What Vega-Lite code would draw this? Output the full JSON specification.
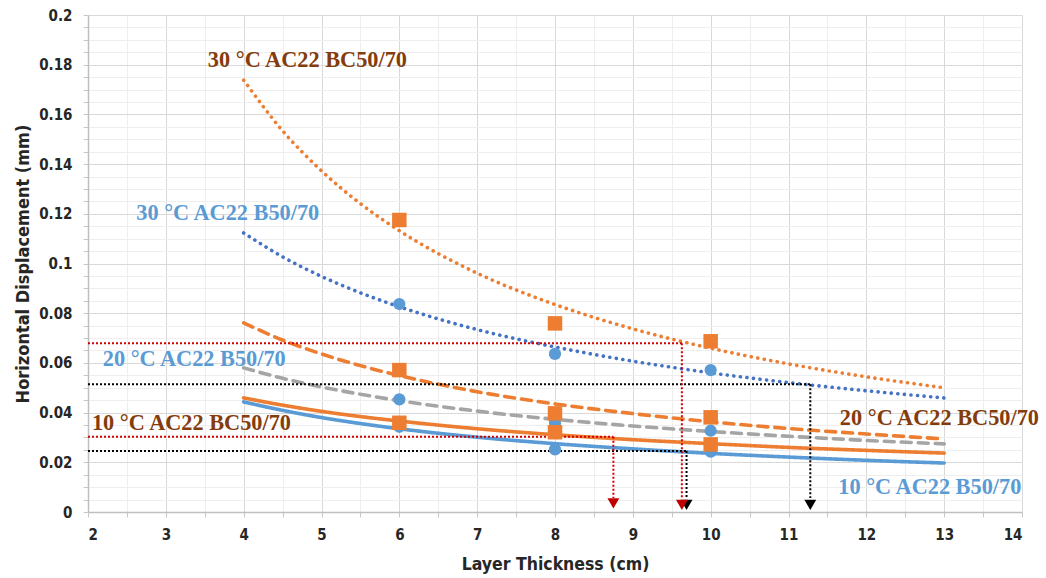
{
  "$schema": "https://vega.github.io/schema/vega-lite/v6.json",
  "autosize": {"type": "none"},
  "padding": {"left": 88, "top": 15, "right": 24, "bottom": 66},
  "width": 934,
  "height": 497,
  "background": "white",
  "config": {"view": {"stroke": null}},
  "datasets": {
    "trend": [
      {"s": "30BC", "x": 4, "y": 0.1738}, {"s": "30BC", "x": 4.5, "y": 0.1534}, {"s": "30BC", "x": 5, "y": 0.1373}, {"s": "30BC", "x": 5.5, "y": 0.1241}, {"s": "30BC", "x": 6, "y": 0.1132}, {"s": "30BC", "x": 7, "y": 0.0961}, {"s": "30BC", "x": 8, "y": 0.0835}, {"s": "30BC", "x": 9, "y": 0.0737}, {"s": "30BC", "x": 10, "y": 0.0659}, {"s": "30BC", "x": 11, "y": 0.0596}, {"s": "30BC", "x": 12, "y": 0.0544}, {"s": "30BC", "x": 13, "y": 0.05},
      {"s": "30B", "x": 4, "y": 0.1123}, {"s": "30B", "x": 4.5, "y": 0.1027}, {"s": "30B", "x": 5, "y": 0.0948}, {"s": "30B", "x": 5.5, "y": 0.0882}, {"s": "30B", "x": 6, "y": 0.0826}, {"s": "30B", "x": 7, "y": 0.0734}, {"s": "30B", "x": 8, "y": 0.0664}, {"s": "30B", "x": 9, "y": 0.0607}, {"s": "30B", "x": 10, "y": 0.056}, {"s": "30B", "x": 11, "y": 0.0521}, {"s": "30B", "x": 12, "y": 0.0488}, {"s": "30B", "x": 13, "y": 0.0459},
      {"s": "20BC", "x": 4, "y": 0.0761}, {"s": "20BC", "x": 4.5, "y": 0.0692}, {"s": "20BC", "x": 5, "y": 0.0636}, {"s": "20BC", "x": 5.5, "y": 0.0589}, {"s": "20BC", "x": 6, "y": 0.0549}, {"s": "20BC", "x": 7, "y": 0.0484}, {"s": "20BC", "x": 8, "y": 0.0435}, {"s": "20BC", "x": 9, "y": 0.0396}, {"s": "20BC", "x": 10, "y": 0.0363}, {"s": "20BC", "x": 11, "y": 0.0336}, {"s": "20BC", "x": 12, "y": 0.0314}, {"s": "20BC", "x": 13, "y": 0.0294},
      {"s": "20B", "x": 4, "y": 0.058}, {"s": "20B", "x": 4.5, "y": 0.0538}, {"s": "20B", "x": 5, "y": 0.0503}, {"s": "20B", "x": 5.5, "y": 0.0474}, {"s": "20B", "x": 6, "y": 0.0448}, {"s": "20B", "x": 7, "y": 0.0406}, {"s": "20B", "x": 8, "y": 0.0373}, {"s": "20B", "x": 9, "y": 0.0346}, {"s": "20B", "x": 10, "y": 0.0324}, {"s": "20B", "x": 11, "y": 0.0305}, {"s": "20B", "x": 12, "y": 0.0288}, {"s": "20B", "x": 13, "y": 0.0274},
      {"s": "10BC", "x": 4, "y": 0.0459}, {"s": "10BC", "x": 4.5, "y": 0.043}, {"s": "10BC", "x": 5, "y": 0.0405}, {"s": "10BC", "x": 5.5, "y": 0.0384}, {"s": "10BC", "x": 6, "y": 0.0366}, {"s": "10BC", "x": 7, "y": 0.0335}, {"s": "10BC", "x": 8, "y": 0.0311}, {"s": "10BC", "x": 9, "y": 0.0291}, {"s": "10BC", "x": 10, "y": 0.0275}, {"s": "10BC", "x": 11, "y": 0.026}, {"s": "10BC", "x": 12, "y": 0.0248}, {"s": "10BC", "x": 13, "y": 0.0237},
      {"s": "10B", "x": 4, "y": 0.0443}, {"s": "10B", "x": 4.5, "y": 0.0409}, {"s": "10B", "x": 5, "y": 0.038}, {"s": "10B", "x": 5.5, "y": 0.0356}, {"s": "10B", "x": 6, "y": 0.0335}, {"s": "10B", "x": 7, "y": 0.0301}, {"s": "10B", "x": 8, "y": 0.0275}, {"s": "10B", "x": 9, "y": 0.0254}, {"s": "10B", "x": 10, "y": 0.0236}, {"s": "10B", "x": 11, "y": 0.0221}, {"s": "10B", "x": 12, "y": 0.0208}, {"s": "10B", "x": 13, "y": 0.0197}
    ],
    "pts": [
      {"m": "B", "x": 6, "y": 0.0837}, {"m": "B", "x": 6, "y": 0.0453}, {"m": "B", "x": 6, "y": 0.0343},
      {"m": "B", "x": 8, "y": 0.0636}, {"m": "B", "x": 8, "y": 0.0359}, {"m": "B", "x": 8, "y": 0.0252},
      {"m": "B", "x": 10, "y": 0.0571}, {"m": "B", "x": 10, "y": 0.0327}, {"m": "B", "x": 10, "y": 0.0243},
      {"m": "BC", "x": 6, "y": 0.1175}, {"m": "BC", "x": 6, "y": 0.0571}, {"m": "BC", "x": 6, "y": 0.0359},
      {"m": "BC", "x": 8, "y": 0.0759}, {"m": "BC", "x": 8, "y": 0.0397}, {"m": "BC", "x": 8, "y": 0.0321},
      {"m": "BC", "x": 10, "y": 0.0687}, {"m": "BC", "x": 10, "y": 0.0381}, {"m": "BC", "x": 10, "y": 0.0272}
    ],
    "refs": [
      {"c": "black", "x": 2, "x2": 11.28, "y": 0.0514, "y2": 0.0514},
      {"c": "black", "x": 11.28, "x2": 11.28, "y": 0.0514, "y2": 0.0056},
      {"c": "black", "x": 2, "x2": 9.69, "y": 0.0245, "y2": 0.0245},
      {"c": "black", "x": 9.69, "x2": 9.69, "y": 0.0245, "y2": 0.0056},
      {"c": "red", "x": 2, "x2": 9.63, "y": 0.0679, "y2": 0.0679},
      {"c": "red", "x": 9.63, "x2": 9.63, "y": 0.0679, "y2": 0.0056},
      {"c": "red", "x": 2, "x2": 8.75, "y": 0.0303, "y2": 0.0303},
      {"c": "red", "x": 8.75, "x2": 8.75, "y": 0.0303, "y2": 0.0056}
    ],
    "arrows": [
      {"c": "black", "x": 11.28, "y": 0.0029},
      {"c": "black", "x": 9.69, "y": 0.0029},
      {"c": "red", "x": 8.75, "y": 0.0035},
      {"c": "red", "x": 9.63, "y": 0.0029}
    ],
    "labels": [
      {"m": "BC", "x": 3.54, "y": 0.182, "t": "30 °C AC22 BC50/70"},
      {"m": "B", "x": 2.62, "y": 0.1203, "t": "30 °C AC22 B50/70"},
      {"m": "B", "x": 2.19, "y": 0.0616, "t": "20 °C AC22 B50/70"},
      {"m": "BC", "x": 2.05, "y": 0.0358, "t": "10 °C AC22 BC50/70"},
      {"m": "BC", "x": 11.66, "y": 0.0378, "t": "20 °C AC22 BC50/70"},
      {"m": "B", "x": 11.64, "y": 0.0101, "t": "10 °C AC22 B50/70"}
    ]
  },
  "resolve": {
    "scale": {"color": "independent", "shape": "independent", "strokeDash": "independent", "strokeWidth": "independent"},
    "axis": {"x": "independent", "y": "independent"}
  },
  "layer": [
    {
      "data": {"name": "trend"},
      "mark": {"type": "line", "strokeCap": "round", "interpolate": "monotone"},
      "encoding": {
        "x": {"field": "x", "type": "quantitative", "scale": {"domain": [2, 14], "nice": false, "zero": false},
          "axis": {"orient": "bottom", "values": [2,2.5,3,3.5,4,4.5,5,5.5,6,6.5,7,7.5,8,8.5,9,9.5,10,10.5,11,11.5,12,12.5,13,13.5,14], "grid": true, "gridColor": "#eeeeee", "gridWidth": 1, "labels": false, "ticks": true, "tickSize": 5, "tickColor": "#c8c8c8", "domain": false, "title": null}},
        "y": {"field": "y", "type": "quantitative", "scale": {"domain": [0, 0.2], "nice": false, "zero": true},
          "axis": {"orient": "left", "values": [0,0.005,0.01,0.015,0.02,0.025,0.03,0.035,0.04,0.045,0.05,0.055,0.06,0.065,0.07,0.075,0.08,0.085,0.09,0.095,0.1,0.105,0.11,0.115,0.12,0.125,0.13,0.135,0.14,0.145,0.15,0.155,0.16,0.165,0.17,0.175,0.18,0.185,0.19,0.195,0.2], "grid": true, "gridColor": "#eeeeee", "gridWidth": 1, "labels": false, "ticks": true, "tickSize": 5, "tickColor": "#c8c8c8", "domain": false, "title": null}},
        "color": {"field": "s", "type": "nominal", "legend": null, "scale": {"domain": ["30BC","30B","20BC","20B","10BC","10B"], "range": ["#ED7D31","#4472C4","#ED7D31","#A5A5A5","#ED7D31","#5B9BD5"]}},
        "strokeDash": {"field": "s", "type": "nominal", "legend": null, "scale": {"domain": ["30BC","30B","20BC","20B","10BC","10B"], "range": [[0.1,6.5],[0.1,6.5],[10,7],[10,7],[1,0],[1,0]]}},
        "strokeWidth": {"field": "s", "type": "nominal", "legend": null, "scale": {"domain": ["30BC","30B","20BC","20B","10BC","10B"], "range": [3.6,3.6,4.2,5,2.6,2.6]}}
      }
    },
    {
      "data": {"name": "refs"},
      "mark": {"type": "rule", "strokeDash": [2, 2], "strokeWidth": 2},
      "encoding": {
        "x": {"field": "x", "type": "quantitative", "axis": null},
        "x2": {"field": "x2"},
        "y": {"field": "y", "type": "quantitative", "axis": null},
        "y2": {"field": "y2"},
        "color": {"field": "c", "type": "nominal", "legend": null, "scale": {"domain": ["red", "black"], "range": ["#D40000", "#000000"]}}
      }
    },
    {
      "data": {"name": "arrows"},
      "mark": {"type": "point", "shape": "triangle-down", "filled": true, "opacity": 1, "size": 140},
      "encoding": {
        "x": {"field": "x", "type": "quantitative", "axis": null},
        "y": {"field": "y", "type": "quantitative", "axis": null},
        "color": {"field": "c", "type": "nominal", "legend": null, "scale": {"domain": ["red", "black"], "range": ["#C00000", "#000000"]}}
      }
    },
    {
      "data": {"name": "pts"},
      "transform": [{"filter": "datum.m == 'B'"}],
      "mark": {"type": "circle", "opacity": 1, "size": 150},
      "encoding": {
        "x": {"field": "x", "type": "quantitative",
          "axis": {"orient": "bottom", "values": [2,3,4,5,6,7,8,9,10,11,12,13,14], "grid": true, "gridColor": "#d9d9d9", "gridWidth": 1, "ticks": false, "domain": true, "domainColor": "#bfbfbf", "domainWidth": 1.5, "labelFont": "Liberation Sans Narrow, DejaVu Sans Condensed, sans-serif", "labelFontWeight": "bold", "labelFontSize": 15, "labelColor": "#262626", "labelPadding": 15, "title": "Layer Thickness (cm)", "titleFont": "Liberation Sans Narrow, DejaVu Sans Condensed, sans-serif", "titleFontWeight": "bold", "titleFontSize": 17.5, "titleColor": "#262626", "titlePadding": 13}},
        "y": {"field": "y", "type": "quantitative",
          "axis": {"orient": "left", "values": [0,0.02,0.04,0.06,0.08,0.1,0.12,0.14,0.16,0.18,0.2], "labelExpr": "datum.value == 0 ? '0' : format(datum.value, '.2~f')", "grid": true, "gridColor": "#d9d9d9", "gridWidth": 1, "ticks": false, "domain": true, "domainColor": "#bfbfbf", "domainWidth": 1.5, "labelFont": "Liberation Sans Narrow, DejaVu Sans Condensed, sans-serif", "labelFontWeight": "bold", "labelFontSize": 15, "labelColor": "#262626", "labelPadding": 16, "title": "Horizontal Displacement (mm)", "titleFont": "Liberation Sans Narrow, DejaVu Sans Condensed, sans-serif", "titleFontWeight": "bold", "titleFontSize": 18, "titleColor": "#262626", "titlePadding": 6}},
        "color": {"value": "#5B9BD5"}
      }
    },
    {
      "data": {"name": "pts"},
      "transform": [{"filter": "datum.m == 'BC'"}],
      "mark": {"type": "square", "opacity": 1, "size": 210},
      "encoding": {
        "x": {"field": "x", "type": "quantitative", "axis": null},
        "y": {"field": "y", "type": "quantitative", "axis": null},
        "color": {"value": "#ED7D31"}
      }
    },
    {
      "data": {"name": "labels"},
      "mark": {"type": "text", "align": "left", "baseline": "middle", "font": "Liberation Serif, Times New Roman, serif", "fontWeight": "bold", "fontSize": 22.3},
      "encoding": {
        "x": {"field": "x", "type": "quantitative", "axis": null},
        "y": {"field": "y", "type": "quantitative", "axis": null},
        "text": {"field": "t"},
        "color": {"field": "m", "type": "nominal", "legend": null, "scale": {"domain": ["B", "BC"], "range": ["#5B9BD5", "#843C0C"]}}
      }
    }
  ]
}
